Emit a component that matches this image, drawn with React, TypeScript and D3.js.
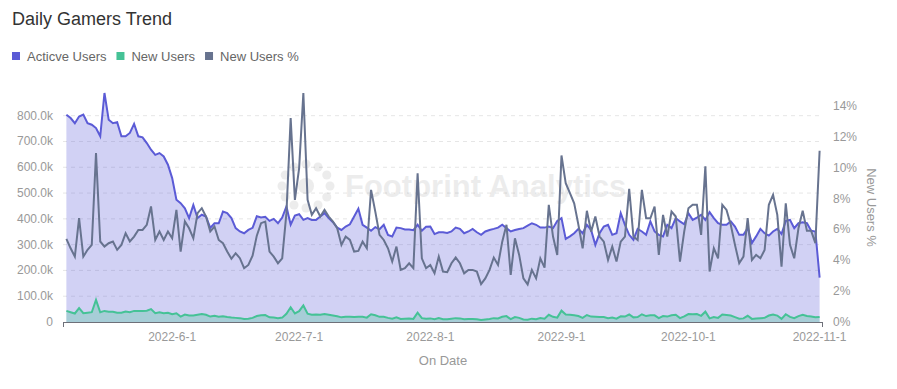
import React from "react";
import * as d3 from "d3";

// daily values, 2022-5-7 .. 2022-11-1
const activeUsersK = [
  804, 791, 771, 797, 804, 771, 765, 752, 720, 888,
  784, 771, 775, 720, 720, 733, 768, 720, 716, 694,
  668, 648, 655, 642, 610, 558, 474, 461, 441, 403,
  454, 403, 416, 409, 365, 383, 383, 428, 422, 403,
  364, 351, 344, 357, 365, 410, 405, 408, 392, 400,
  383, 405, 448, 377, 413, 418, 396, 403, 396, 396,
  409, 422, 403, 387, 366, 357, 370, 379, 409, 439,
  377, 366, 354, 368, 360, 377, 338, 332, 366, 364,
  359, 359, 356, 377, 354, 369, 370, 341, 348, 348,
  345, 351, 366, 361, 344, 351, 361, 348, 338, 351,
  357, 361, 366, 377, 364, 351, 357, 361, 364, 374,
  383, 377, 366, 366, 370, 364, 392, 403, 322, 332,
  344, 361, 344, 377, 357, 299, 344, 370, 377, 338,
  344, 422, 377, 338, 319, 361, 351, 338, 390, 351,
  338, 332, 377, 364, 403, 390, 379, 422, 396, 405,
  416, 396, 426, 403, 383, 377, 377, 390, 370, 338,
  338, 364, 306, 332, 361, 344, 335, 351, 361, 341,
  392, 396, 364, 383, 387, 383, 354, 351, 172,
];

const newUsersK = [
  43, 38, 33, 54, 34, 36, 38, 86, 38, 43,
  40, 40, 36, 36, 41, 38, 43, 43, 43, 44,
  50, 34, 38, 34, 36, 30, 34, 21, 29, 25,
  25, 28, 31, 28, 21, 24, 20, 22, 19, 17,
  16, 15, 12, 13, 16, 23, 26, 27, 18, 17,
  15, 17, 32, 57, 33, 42, 64, 32, 28, 29,
  28, 31, 28, 25, 22, 18, 20, 20, 19, 20,
  20, 17, 30, 26, 20, 20, 16, 13, 18, 12,
  13, 14, 12, 36, 15, 13, 14, 11, 15, 11,
  11, 13, 15, 14, 11, 12, 12, 11, 8, 10,
  12, 15, 14, 20, 23, 11, 19, 16, 10, 9,
  13, 11, 15, 13, 28, 20, 17, 44, 29, 28,
  26, 23, 16, 27, 21, 20, 19, 19, 15, 17,
  13, 22, 21, 29, 18, 19, 30, 23, 26, 26,
  15, 23, 21, 26, 28, 15, 22, 31, 30, 31,
  24, 40, 14, 19, 16, 29, 27, 25, 19, 13,
  14, 24, 12, 14, 15, 16, 25, 29, 25, 12,
  30, 20, 15, 23, 28, 23, 21, 18, 19,
];

const newUsersPct = [
  5.39, 4.78, 4.24, 6.73, 4.24, 4.68, 5.0, 10.95, 5.22, 4.89,
  5.11, 5.22, 4.68, 5.0, 5.76, 5.22, 5.54, 5.97, 5.97, 6.3,
  7.49, 5.32, 5.87, 5.32, 5.87, 5.43, 7.27, 4.57, 6.52, 6.08,
  5.43, 7.06, 7.38, 6.84, 5.87, 6.19, 5.32, 5.11, 4.57, 4.1,
  4.46, 4.14, 3.49, 3.7, 4.3, 5.6, 6.41, 6.51, 4.57, 4.24,
  3.81, 4.13, 7.06, 13.22, 7.92, 9.98, 14.85, 7.92, 6.95, 7.38,
  6.84, 7.27, 6.84, 6.51, 6.08, 5.0, 5.54, 5.32, 4.57, 4.61,
  5.21, 4.78, 8.57, 7.16, 5.65, 5.32, 4.78, 3.92, 4.89, 3.38,
  3.49, 3.81, 3.49, 9.65, 4.13, 3.49, 3.7, 3.16, 4.24, 3.27,
  3.23, 3.81, 4.18, 3.81, 3.16, 3.38, 3.38, 3.27, 2.46, 2.83,
  3.38, 4.18, 3.7, 5.21, 6.3, 3.05, 5.43, 4.35, 2.83, 2.44,
  3.38, 2.83, 4.13, 3.53, 7.6, 5.54, 4.35, 10.8, 9.0, 8.35,
  7.7, 6.3, 4.78, 7.21, 5.86, 6.84, 5.54, 5.21, 4.02, 4.89,
  3.92, 5.21, 5.54, 8.64, 5.54, 5.32, 8.57, 6.73, 6.73, 7.49,
  4.35, 6.95, 5.54, 7.16, 6.84, 3.92, 5.86, 7.38, 7.6, 7.6,
  5.65, 10.09, 3.27, 4.78, 4.13, 7.6, 7.27, 6.3, 5.0, 3.81,
  4.24, 6.73, 4.02, 4.35, 4.13, 4.67, 7.6, 8.25, 6.95, 3.59,
  7.7, 5.0, 4.13, 6.08, 7.21, 5.91, 5.91, 5.11, 11.1,
];

const dates = d3.timeDay.range(new Date(2022, 4, 7), new Date(2022, 10, 2));
const monthTicks = ["2022-6-1", "2022-7-1", "2022-8-1", "2022-9-1", "2022-10-1", "2022-11-1"];
const leftTicks = [0, 100, 200, 300, 400, 500, 600, 700, 800];
const rightTicks = [0, 2, 4, 6, 8, 10, 12, 14];

const series = [
  { name: "Acticve Users", color: "#5b5bd6" },
  { name: "New Users", color: "#45c296" },
  { name: "New Users %", color: "#67738f" },
];

const W = 897, H = 389;
const margin = { top: 93, right: 74, bottom: 67, left: 63 };
const fmt = d3.timeFormat("%Y-%-m-%-d");
const font = "'Liberation Sans', Arial, sans-serif";

// measure legend labels so items sit next to each other
function textWidth(s: string, size: number) {
  const ctx = document.createElement("canvas").getContext("2d");
  if (!ctx) return s.length * size * 0.5;
  ctx.font = `${size}px ${font}`;
  return ctx.measureText(s).width;
}

export default function App() {
  const keys = dates.map(fmt);
  const x = d3.scalePoint<string>().domain(keys).range([margin.left, W - margin.right]).padding(0.8);
  const bottom = H - margin.bottom;
  const yL = d3.scaleLinear().domain([0, d3.max(activeUsersK)!]).range([bottom, margin.top]);
  const yR = d3.scaleLinear().domain([0, d3.max(newUsersPct)!]).range([bottom, margin.top]);

  const area = (vals: number[]) =>
    d3.area<number>().x((_, i) => x(keys[i])!).y0(bottom).y1((d) => yL(d))(vals)!;
  const line = (vals: number[], y: (v: number) => number) =>
    d3.line<number>().x((_, i) => x(keys[i])!).y((d) => y(d))(vals)!;

  const x0 = margin.left, x1 = W - margin.right;

  let lx = 12;
  const legend = series.map((s) => {
    const pos = lx;
    lx += 15 + textWidth(s.name, 13) + 10;
    return { ...s, pos };
  });

  return (
    <svg width={W} height={H} style={{ position: "absolute", left: 0, top: 0, fontFamily: font }}>
      <rect width={W} height={H} fill="#fff" />
      <text x={12} y={25} fontSize={18} fill="#333">Daily Gamers Trend</text>

      {legend.map((s) => (
        <g key={s.name} transform={`translate(${s.pos},0)`}>
          <rect x={0} y={52} width={8} height={8} fill={s.color} />
          <text x={15} y={61} fontSize={13} fill="#666">{s.name}</text>
        </g>
      ))}

      {/* grid */}
      {leftTicks.slice(1).map((t) => (
        <line key={t} x1={x0} x2={x1} y1={yL(t)} y2={yL(t)} stroke="#e6e6e6" strokeDasharray="4,4" />
      ))}

      {/* watermark */}
      <g opacity={0.07} fill="#000">
        {d3.range(12).map((k) => {
          const a = (k / 12) * Math.PI * 2;
          return <circle key={k} cx={306 + Math.cos(a) * 24} cy={186 + Math.sin(a) * 22} r={4.5} />;
        })}
        <circle cx={306} cy={186} r={8} />
        <text x={345} y={197} fontSize={31} fontWeight="bold">Footprint Analytics</text>
      </g>

      <path d={area(activeUsersK)} fill="#5b5bd6" fillOpacity={0.28} />
      <path d={line(activeUsersK, yL)} fill="none" stroke="#5b5bd6" strokeWidth={2} />
      <path d={area(newUsersK)} fill="#45c296" fillOpacity={0.3} />
      <path d={line(newUsersK, yL)} fill="none" stroke="#45c296" strokeWidth={2} />
      <path d={line(newUsersPct, yR)} fill="none" stroke="#67738f" strokeWidth={2} />

      {/* x axis */}
      <line x1={x0} x2={x1} y1={bottom + 0.5} y2={bottom + 0.5} stroke="#6e7079" />
      <line x1={x0 + 0.5} x2={x0 + 0.5} y1={bottom} y2={bottom + 5} stroke="#6e7079" />
      <line x1={x1 - 0.5} x2={x1 - 0.5} y1={bottom} y2={bottom + 5} stroke="#6e7079" />
      {monthTicks.map((t) => (
        <text key={t} x={x(t)} y={bottom + 19} fontSize={12} fill="#999" textAnchor="middle">{t}</text>
      ))}
      <text x={(x0 + x1) / 2} y={bottom + 43} fontSize={13} fill="#999" textAnchor="middle">On Date</text>

      {/* left axis */}
      {leftTicks.map((t) => (
        <text key={t} x={x0 - 10} y={yL(t) + 4} fontSize={12} fill="#999" textAnchor="end">
          {t === 0 ? "0" : `${t.toFixed(1)}k`}
        </text>
      ))}

      {/* right axis */}
      {rightTicks.map((t) => (
        <text key={t} x={x1 + 10} y={yR(t) + 4} fontSize={12} fill="#999">{`${t}%`}</text>
      ))}
      <text transform={`translate(${x1 + 44},${(margin.top + bottom) / 2}) rotate(90)`} fontSize={13} fill="#999" textAnchor="middle">
        New Users %
      </text>
    </svg>
  );
}
